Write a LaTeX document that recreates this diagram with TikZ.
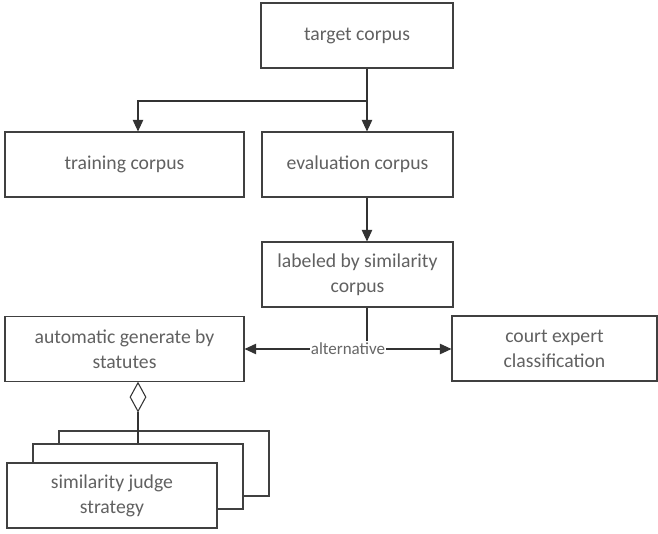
\documentclass[tikz,border=0pt]{standalone}
\usepackage{fontspec}
\setmainfont{Carlito}
\usetikzlibrary{arrows.meta}
\usetikzlibrary{shapes.geometric}

\begin{document}
\begin{tikzpicture}[x=0.03cm,y=-0.03cm]
\tikzstyle{box}=[draw=black!75,line width=0.9pt,fill=white,rectangle,align=center,text=black!62,font=\fontsize{16.8}{21.5}\selectfont,inner sep=0pt,minimum height=1.95cm]
\tikzstyle{arr}=[draw=black!80,line width=0.9pt,-{Triangle[length=10pt,width=9pt]}]
\useasboundingbox (0,0) rectangle (658,534);

\node (target) at (357,35.5) [box,minimum width=5.76cm] {target corpus};
\node (train) at (124.5,164.5) [box,minimum width=7.17cm] {training corpus};
\node (eval) at (357.5,164.5) [box,minimum width=5.73cm] {evaluation corpus};
\node (lab) at (357.5,274.5) [box,minimum width=5.73cm] {labeled by similarity\\corpus};
\node (auto) at (124.5,349) [box,minimum width=7.17cm] {automatic generate by\\statutes};
\node (court) at (554.5,348.5) [box,minimum width=6.15cm] {court expert\\classification};

% stacked strategies
\node (back) at (164,463.5) [box,minimum width=6.3cm] {};
\node (mid) at (138,476.5) [box,minimum width=6.3cm] {};
\node (front) at (112,495.5) [box,minimum width=6.3cm] {similarity judge\\strategy};

\coordinate (split) at (367,101);
\coordinate (tj) at (138,101);
\draw[arr] (target.south -| split) -- (eval.north -| split);
\draw[arr] (split) -- (tj) -- (tj |- train.north);
\draw[arr] (eval.south -| split) -- (lab.north -| split);

\draw[draw=black!80,line width=0.9pt,{Triangle[length=10pt,width=9pt]}-{Triangle[length=10pt,width=9pt]}] (auto.east) -- (court.west |- auto.east) node [pos=0.5,fill=white,inner sep=1pt,text=black!60,font=\fontsize{14.5}{16}\selectfont](alt) {alternative};
\draw[draw=black!80,line width=0.9pt] (lab.south -| split) -- (alt.north -| split);

\node (agg) [draw=black!80,line width=0.9pt,fill=white,diamond,inner sep=0pt,minimum width=0.48cm,minimum height=0.87cm,anchor=north] at (auto.south -| tj) {};
\draw[draw=black!80,line width=0.9pt] (agg.south) -- (mid.north -| agg.south);

\end{tikzpicture}
\end{document}
